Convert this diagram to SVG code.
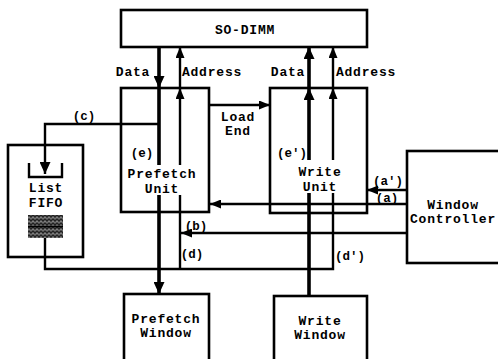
<svg xmlns="http://www.w3.org/2000/svg" width="498" height="359" viewBox="0 0 498 359">
<style>
.box{fill:#fff;stroke:#000;stroke-width:2.6}
.ln{fill:none;stroke:#000;stroke-width:2.4}
.th{fill:none;stroke:#000;stroke-width:3.6}
text{font-family:"Liberation Mono","Courier New",monospace;font-weight:bold;font-size:13px;letter-spacing:0.8px;fill:#000;text-anchor:middle}
.lb{font-size:12.5px;letter-spacing:0}
</style>
<defs>
<marker id="ah" markerUnits="userSpaceOnUse" markerWidth="11" markerHeight="9" refX="11" refY="4.5" orient="auto"><path d="M0,0 L11,4.5 L0,9 z" fill="#000"/></marker>
<marker id="ahb" markerUnits="userSpaceOnUse" markerWidth="12" markerHeight="11" refX="12" refY="5.5" orient="auto"><path d="M0,0 L12,5.5 L0,11 z" fill="#000"/></marker>
<pattern id="tex" width="4" height="4" patternUnits="userSpaceOnUse"><rect width="4" height="4" fill="#222"/><rect x="0.5" y="0.5" width="1" height="2" fill="#ddd"/><rect x="2.5" y="1.5" width="1" height="2" fill="#bbb"/></pattern>
</defs>

<g id="sodimm"><rect class="box" x="121" y="10" width="246" height="37"/><text x="245" y="34">SO-DIMM</text></g>

<g id="prefetch-unit"><rect class="box" x="121" y="88" width="88" height="124"/><text x="162" y="178">Prefetch</text><text x="162" y="192.5">Unit</text></g>

<g id="write-unit"><rect class="box" x="270" y="88" width="97" height="125"/><text x="320" y="176">Write</text><text x="320" y="190.5">Unit</text></g>

<g id="list-fifo"><rect class="box" x="8" y="145" width="75" height="112"/>
<path class="ln" d="M29,163 V177 H62 V163" stroke-width="2"/>
<text x="46" y="192">List</text><text x="46" y="206.5">FIFO</text>
<rect x="28" y="215" width="35" height="23" fill="url(#tex)"/>
<line x1="28" y1="226.5" x2="63" y2="226.5" stroke="#000" stroke-width="1.5"/>
</g>

<g id="window-controller"><rect class="box" x="407" y="151" width="95" height="112"/><text x="453" y="208.5">Window</text><text x="453" y="223">Controller</text></g>

<g id="prefetch-window"><rect class="box" x="124" y="294" width="85" height="70"/><text x="166" y="322.5">Prefetch</text><text x="166" y="337">Window</text></g>

<g id="write-window"><rect class="box" x="274" y="296" width="93" height="68"/><text x="320" y="324.5">Write</text><text x="320" y="339">Window</text></g>

<g id="connectors">
<line class="th" x1="159" y1="47" x2="159" y2="88" marker-end="url(#ahb)"/>
<line class="th" x1="159" y1="88" x2="159" y2="165"/>
<line class="th" x1="159" y1="195" x2="159" y2="294" marker-end="url(#ahb)"/>
<line class="ln" x1="180" y1="165" x2="180" y2="88" marker-end="url(#ah)"/>
<line class="ln" x1="180" y1="88" x2="180" y2="47" marker-end="url(#ah)"/>
<line class="th" x1="309" y1="160" x2="309" y2="88" marker-end="url(#ahb)"/>
<line class="th" x1="309" y1="88" x2="309" y2="47" marker-end="url(#ahb)"/>
<line class="th" x1="309" y1="193" x2="309" y2="296"/>
<line class="ln" x1="333" y1="160" x2="333" y2="88" marker-end="url(#ah)"/>
<line class="ln" x1="333" y1="88" x2="333" y2="47" marker-end="url(#ah)"/>
<line class="ln" x1="209" y1="105" x2="270" y2="105" marker-end="url(#ah)"/>
<path class="ln" d="M159,124 H45 V174" marker-end="url(#ahb)"/>
<path class="ln" d="M45,238 V269 H333 V193"/>
<line class="ln" x1="180" y1="195" x2="180" y2="269"/>
<line class="ln" x1="407" y1="190" x2="367" y2="190" marker-end="url(#ah)"/>
<line class="ln" x1="407" y1="204" x2="210" y2="204" marker-end="url(#ah)"/>
<line class="ln" x1="407" y1="233" x2="181" y2="233" marker-end="url(#ah)"/>
</g>

<g id="labels">
<text x="133" y="76">Data</text>
<text x="212" y="76">Address</text>
<text x="288" y="76">Data</text>
<text x="366" y="76">Address</text>
<text x="238" y="120.5">Load</text>
<text x="238" y="135">End</text>
<text class="lb" x="84" y="120">(c)</text>
<text class="lb" x="142" y="157">(e)</text>
<text class="lb" x="292" y="157">(e')</text>
<text class="lb" x="388" y="185">(a')</text>
<text class="lb" x="387" y="202">(a)</text>
<text class="lb" x="196" y="230">(b)</text>
<text class="lb" x="192" y="258">(d)</text>
<text class="lb" x="350" y="260">(d')</text>
</g>
</svg>
